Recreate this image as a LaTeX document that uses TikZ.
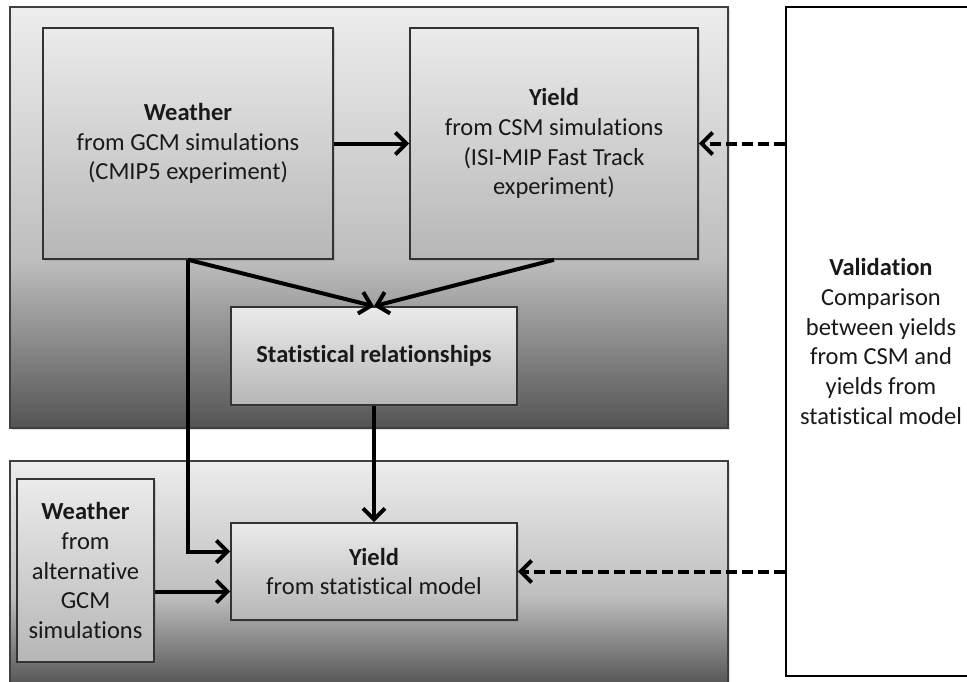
\documentclass[tikz,border=0pt]{standalone}
\usepackage{fontspec}
\setmainfont{Carlito}[Ligatures={NoCommon}]
\usetikzlibrary{arrows.meta,shadows}

\definecolor{pdark}{HTML}{545454}
\definecolor{pmid}{HTML}{BEBEBE}
\definecolor{plight}{HTML}{EDEDED}
\definecolor{boxtop}{HTML}{EBEBEB}
\definecolor{boxbot}{HTML}{B6B6B6}
\pgfdeclareverticalshading{panelshade}{100bp}{color(0bp)=(pdark); color(25bp)=(pdark); color(45bp)=(pmid); color(75bp)=(plight); color(100bp)=(plight)}

\begin{document}
\begin{tikzpicture}[x=1pt, y=-1pt,
		every node/.style={font=\fontsize{24.5}{29.8}\selectfont, align=center, text=black!90},
		panel/.style={draw=black!75, line width=1.6pt, shading=panelshade,
				drop shadow={shadow xshift=1.5pt, shadow yshift=-1.5pt, opacity=0.25}},
		box/.style={draw=black!80, line width=1.6pt, inner sep=0pt, top color=boxtop, bottom color=boxbot,
				drop shadow={shadow xshift=1.5pt, shadow yshift=-1.5pt, opacity=0.3}},
		flow/.style={line width=4pt, -{Straight Barb[length=11pt, width=22pt]}},
		check/.style={flow, dash pattern=on 11pt off 5pt},
	]
	\path[use as bounding box] (0,0) rectangle (967,681);
	% the two model stages
	\path[panel] (10,7) rectangle (728,428);
	\path[panel] (10,461) rectangle (728,686);
	% boxes
	\node[box, minimum width=290pt, minimum height=231pt] (wgcm) at (188,143.5)
		{\textbf{Weather}\\from GCM simulations\\(CMIP5 experiment)};
	\node[box, minimum width=288pt, minimum height=231pt] (ycsm) at (554,143.5)
		{\textbf{Yield}\\from CSM simulations\\(ISI-MIP Fast Track\\experiment)};
	\node[box, minimum width=286pt, minimum height=98pt] (stat) at (374,356)
		{\textbf{Statistical relationships}};
	\node[box, minimum width=286pt, minimum height=97pt] (ystat) at (374,571.5)
		{\textbf{Yield}\\from statistical model};
	\node[box, minimum width=137pt, minimum height=183pt] (walt) at (85.5,570.5)
		{\textbf{Weather}\\from\\alternative\\GCM\\simulations};
	\node[draw=black, line width=1.6pt, fill=white, inner sep=0pt, minimum width=190pt, minimum height=669pt] (valid) at (881,341.5)
		{\textbf{Validation}\\Comparison\\between yields\\from CSM and\\yields from\\statistical model};
	% connectors
	\draw[flow] (wgcm.east) -- (ycsm.west);
	\draw[flow] (wgcm.south) -- (stat.north);
	\draw[flow] (ycsm.south) -- (stat.north);
	\draw[flow] (stat.south) -- (ystat.north);
	\draw[flow] (wgcm.south) |- ([yshift=20pt]ystat.west);
	\draw[flow] ([yshift=-20pt]ystat.west -| walt.east) -- ([yshift=-20pt]ystat.west);
	\draw[check] (ycsm.east -| valid.west) -- (ycsm.east);
	\draw[check] (ystat.east -| valid.west) -- (ystat.east);
\end{tikzpicture}
\end{document}
